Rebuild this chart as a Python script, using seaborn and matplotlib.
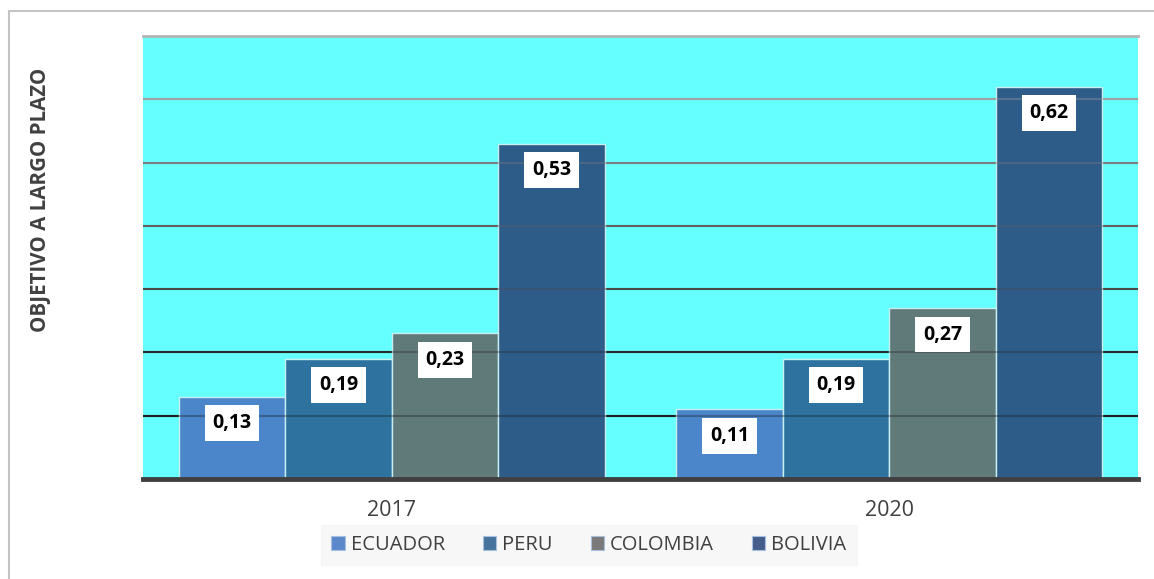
import matplotlib
matplotlib.use("Agg")
import matplotlib.pyplot as plt
import seaborn as sns
import pandas as pd
from matplotlib.patches import Rectangle, Patch

# Data
years = ["2017", "2020"]
countries = ["ECUADOR", "PERU", "COLOMBIA", "BOLIVIA"]
ecuador = [0.13, 0.11]
peru = [0.19, 0.19]
colombia = [0.23, 0.27]
bolivia = [0.53, 0.62]
y_title = "OBJETIVO A LARGO PLAZO"

bar_colors = ["#4a86c9", "#2e73a0", "#607979", "#2e5c88"]
legend_colors = ["#5b87cb", "#46729d", "#7a7a7a", "#455d8b"]
grid_levels = [0.1, 0.2, 0.3, 0.4, 0.5, 0.6]
grid_colors = ["#1e1e1e", "#2a2a2a", "#4a4a4a", "#606060", "#7c7c7c", "#a0a0a0"]

sns.set_theme(style="white")
plt.rcParams["font.family"] = ["Open Sans", "DejaVu Sans"]

df = pd.DataFrame({
    "year": [y for y in years for _ in countries],
    "country": countries * len(years),
    "value": [s[i] for i in range(len(years)) for s in (ecuador, peru, colombia, bolivia)],
})

W, H = 1154, 579
fig = plt.figure(figsize=(W / 100, H / 100), dpi=100)
fig.patch.set_facecolor("white")

# outer frame of the chart area
fig.patches.append(Rectangle((9 / W, -0.2), 1.2, 1.2 - 11 / H,
                             transform=fig.transFigure, fill=False,
                             edgecolor="#c4c4c4", linewidth=1.5, zorder=0))

ax = fig.add_axes([143 / W, 1 - 479 / H, (1138 - 143) / W, (479 - 36) / H])
ax.set_facecolor("#66ffff")

for lvl, c in zip(grid_levels, grid_colors):
    ax.axhline(lvl, color=c, linewidth=1.5, zorder=0.5)

sns.barplot(data=df, x="year", y="value", hue="country", order=years,
            hue_order=countries, palette=bar_colors, width=0.857,
            edgecolor="#c9eef2", linewidth=1.0, saturation=1, legend=False,
            ax=ax, zorder=2)

# faint gridlines visible through bars
for lvl, c in zip(grid_levels, grid_colors):
    ax.axhline(lvl, color=c, linewidth=1.5, alpha=0.35, zorder=3)

for cont in ax.containers:
    for bar in cont:
        h = bar.get_height()
        ax.annotate(f"{h:.2f}".replace(".", ","),
                    (bar.get_x() + bar.get_width() / 2, h),
                    xytext=(0, -19), textcoords="offset points",
                    ha="center", va="center", fontsize=14, fontweight="bold",
                    color="black", zorder=5,
                    bbox=dict(boxstyle="square,pad=0.4", facecolor="white",
                              edgecolor="none"))

ax.set_ylim(0, 0.7)
ax.set_xlim(-0.5, 1.5)
ax.set_yticks([])
ax.set_xlabel("")
ax.set_ylabel("")
ax.tick_params(axis="x", length=0, pad=15, labelsize=15.5, labelcolor="#404040")
for side in ("left", "right"):
    ax.spines[side].set_visible(False)
ax.spines["top"].set_color("#b4b4b4")
ax.spines["top"].set_linewidth(2)
ax.spines["bottom"].set_color("#404040")
ax.spines["bottom"].set_linewidth(3.5)

fig.text(41 / W, 1 - 200 / H, y_title, rotation=90, ha="center", va="center",
         fontsize=14.8, fontweight="bold", color="#404040")

handles = [Patch(facecolor=c, edgecolor="#a8c0e0", linewidth=0.8) for c in legend_colors]
leg = fig.legend(handles, countries, loc="center", bbox_to_anchor=(589 / W, 1 - 545 / H),
                 ncol=4, frameon=True, fontsize=14.5, handlelength=0.65,
                 handleheight=0.65, handletextpad=0.3, columnspacing=1.9,
                 borderpad=0.5, borderaxespad=0, fancybox=False)
leg.get_frame().set_facecolor("#f5f5f5")
leg.get_frame().set_edgecolor("#f5f5f5")
for t in leg.get_texts():
    t.set_color("#404040")

fig.savefig("out.png", dpi=100)
